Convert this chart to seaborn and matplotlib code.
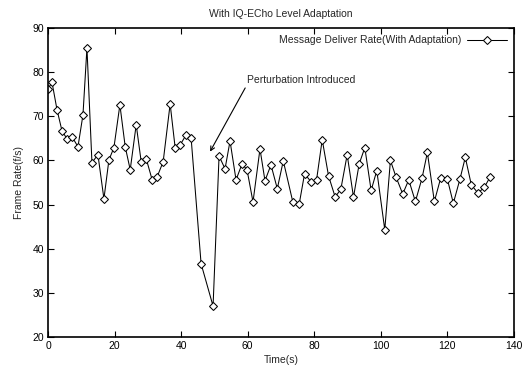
import matplotlib
matplotlib.use("Agg")
import matplotlib.pyplot as plt
import seaborn as sns
import pandas as pd

time_s = [0.0, 1.2, 2.7, 4.2, 5.7, 7.2, 9.0, 10.5, 11.7, 13.2, 15.0, 16.8, 18.3, 19.8,
          21.6, 23.2, 24.7, 26.5, 28.0, 29.5, 31.3, 32.8, 34.6, 36.7, 38.2, 39.7, 41.5,
          43.0, 46.0, 49.6, 51.4, 53.2, 54.7, 56.5, 58.3, 59.8, 61.6, 63.7, 65.2, 67.0,
          68.9, 70.7, 73.6, 75.5, 77.1, 79.0, 80.7, 82.4, 84.3, 86.3, 88.0, 89.9, 91.8,
          93.5, 95.2, 97.1, 98.8, 101.2, 102.9, 104.6, 106.6, 108.4, 110.4, 112.4, 114.0,
          116.1, 118.0, 120.0, 121.8, 123.8, 125.4, 127.2, 129.2, 131.1, 132.9]
frame_rate = [76.2, 77.7, 71.5, 66.7, 64.9, 65.4, 63.1, 70.3, 85.5, 59.5, 61.3, 51.3, 60.1, 62.9,
              72.6, 63.1, 57.9, 68.1, 59.7, 60.4, 55.6, 56.3, 59.7, 72.8, 62.9, 63.5, 65.8,
              65.1, 36.6, 27.0, 61.0, 58.1, 64.4, 55.6, 59.2, 57.9, 50.6, 62.6, 55.4, 59.0,
              53.6, 59.9, 50.5, 50.2, 57.0, 55.2, 55.6, 64.7, 56.5, 51.7, 53.5, 61.3, 51.7,
              59.2, 62.9, 53.2, 57.7, 44.3, 60.0, 56.2, 52.4, 55.6, 50.7, 56.0, 61.8,
              50.7, 56.0, 55.8, 50.3, 55.8, 60.7, 54.5, 52.6, 53.9, 56.3]
series_label = "Message Deliver Rate(With Adaptation)"
title_text = "With IQ-ECho Level Adaptation"
x_ticks = [0, 20, 40, 60, 80, 100, 120, 140]
y_ticks = [20, 30, 40, 50, 60, 70, 80, 90]

sns.set_style("white")
plt.rcParams['font.family'] = ['Liberation Sans', 'DejaVu Sans']

df = pd.DataFrame({"Time(s)": time_s, "Frame Rate(f/s)": frame_rate})

fig = plt.figure(figsize=(5.3, 3.71), dpi=100)
ax = fig.add_axes([0.0906, 0.0916, 0.879, 0.8329])

fs = 7.5
sns.lineplot(data=df, x="Time(s)", y="Frame Rate(f/s)", ax=ax, color="black",
             linewidth=0.75, marker="D", markersize=4.3, markerfacecolor="white",
             markeredgecolor="black", markeredgewidth=0.75, label=series_label)

ax.set_xlim(0, 140)
ax.set_ylim(20, 90)
ax.set_xticks(x_ticks)
ax.set_yticks(y_ticks)
ax.tick_params(direction="in", length=4, width=0.8, labelsize=fs, top=True, right=True,
               bottom=True, left=True, pad=3, colors="black")
for s in ax.spines.values():
    s.set_color("black")
    s.set_linewidth(1.2)
ax.set_xlabel("Time(s)", fontsize=fs, labelpad=3)
ax.set_ylabel("Frame Rate(f/s)", fontsize=fs, labelpad=6)
ax.set_title(title_text, fontsize=fs, pad=8)

leg = ax.legend(loc="upper right", frameon=False, markerfirst=False, fontsize=fs,
                handlelength=3.8, borderaxespad=0.3, handletextpad=0.5)

ax.annotate("Perturbation Introduced", xy=(48.7, 62.0), xytext=(59.8, 78.3),
            fontsize=fs, va="center", ha="left",
            arrowprops=dict(arrowstyle="->", color="black", lw=0.8,
                            shrinkA=0, shrinkB=0, relpos=(0, 0)))

fig.savefig("out.png", dpi=100)
